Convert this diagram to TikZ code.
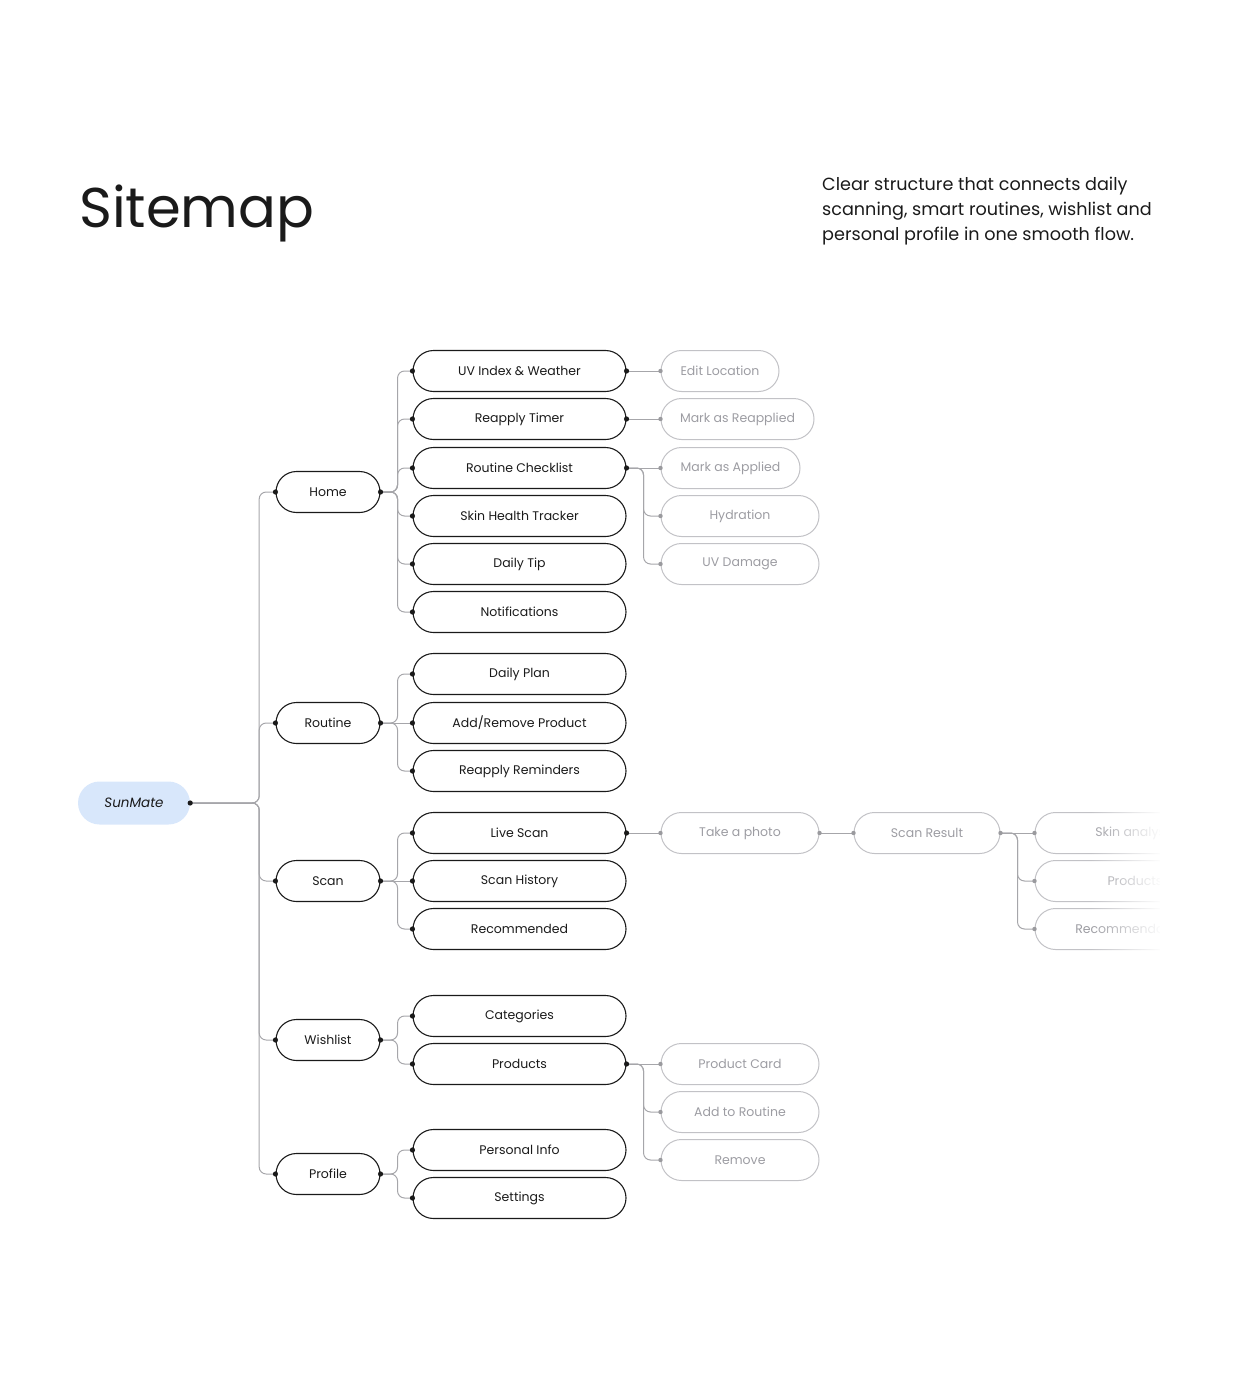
\documentclass[tikz,border=0pt]{standalone}
\usepackage{fontspec}
\setmainfont{Poppins}
\usetikzlibrary{fadings}
\definecolor{ink}{HTML}{1A1A1A}
\definecolor{wire}{HTML}{A6A6AA}
\definecolor{softline}{HTML}{C2C2C6}
\definecolor{softtext}{HTML}{9C9CA2}
\definecolor{softdot}{HTML}{9A9A9E}
\definecolor{sunfill}{HTML}{D8E7FB}
\begin{document}
\begin{tikzpicture}[x=1pt,y=-1pt,
  base/.style={rectangle, rounded corners=20.5pt, minimum height=41pt, inner sep=0pt, font=\fontsize{12.5}{15}\selectfont},
  lvone/.style={base, draw=ink, line width=1.1pt, minimum width=104pt, text=ink},
  lvtwo/.style={base, draw=ink, line width=1.1pt, minimum width=213pt, text=ink},
  soft/.style={base, draw=softline, line width=1pt, text=softtext},
  sunm/.style={base, fill=sunfill, minimum width=112pt, minimum height=43pt, rounded corners=21.5pt, text=ink, font=\fontsize{13.5}{16}\selectfont\itshape},
  conn/.style={draw=wire, line width=1pt, rounded corners=7pt},
  bdot/.style={fill=ink},
  gdot/.style={fill=softdot}]
\useasboundingbox (0,0) rectangle (1240,1391);

% titles
\node[anchor=base west, inner sep=0pt, font=\fontsize{56}{64}\selectfont, text=ink] (title) at (79,227) {Sitemap};
\node[anchor=north west, inner sep=0pt, align=left, font=\fontsize{17.6}{25}\selectfont, text=ink] (desc) at (822,177)
  {Clear structure that connects daily\\scanning, smart routines, wishlist and\\personal profile in one smooth flow.};

% root
\node[sunm] (sun) at (134,803) {SunMate};

% level 1
\node[lvone] (home) at (328,492) {Home};
\node[lvone] (routine) at (328,723) {Routine};
\node[lvone] (scan) at (328,881) {Scan};
\node[lvone] (wish) at (328,1040) {Wishlist};
\node[lvone] (prof) at (328,1174) {Profile};

% level 2
\node[lvtwo] (uvw) at (519.5,371) {UV Index \& Weather};
\node[lvtwo] (reap) at (519.5,419) {Reapply Timer};
\node[lvtwo] (rout) at (519.5,468) {Routine Checklist};
\node[lvtwo] (skin) at (519.5,516) {Skin Health Tracker};
\node[lvtwo] (tip) at (519.5,564) {Daily Tip};
\node[lvtwo] (notif) at (519.5,612) {Notifications};
\node[lvtwo] (plan) at (519.5,674) {Daily Plan};
\node[lvtwo] (addrem) at (519.5,723) {Add/Remove Product};
\node[lvtwo] (remind) at (519.5,771) {Reapply Reminders};
\node[lvtwo] (live) at (519.5,833) {Live Scan};
\node[lvtwo] (hist) at (519.5,881) {Scan History};
\node[lvtwo] (recom) at (519.5,929) {Recommended};
\node[lvtwo] (cat) at (519.5,1016) {Categories};
\node[lvtwo] (prods) at (519.5,1064) {Products};
\node[lvtwo] (pinfo) at (519.5,1150) {Personal Info};
\node[lvtwo] (sett) at (519.5,1198) {Settings};

% level 3
\node[soft, minimum width=118pt] (edit) at (720,371) {Edit Location};
\node[soft, minimum width=153pt] (markre) at (737.5,419) {Mark as Reapplied};
\node[soft, minimum width=139pt] (markap) at (730.5,468) {Mark as Applied};
\node[soft, minimum width=158pt] (hyd) at (740,516) {Hydration};
\node[soft, minimum width=158pt] (uvd) at (740,564) {UV Damage};
\node[soft, minimum width=158pt] (photo) at (740,833) {Take a photo};
\node[soft, minimum width=146pt] (result) at (927,833) {Scan Result};
\node[soft, minimum width=158pt] (pcard) at (740,1064) {Product Card};
\node[soft, minimum width=158pt] (addr) at (740,1112) {Add to Routine};
\node[soft, minimum width=158pt] (remv) at (740,1160) {Remove};
\node[soft, minimum width=200pt] (skinan) at (1135,833) {Skin analysis};
\node[soft, minimum width=200pt] (rprod) at (1135,881) {Products};
\node[soft, minimum width=200pt] (rrec) at (1135,929) {Recommendations};

% connectors (bent)
\foreach \c in {home,routine,scan,wish,prof} \draw[conn] (sun.east) -- ++(69,0) |- (\c.west);
\foreach \c in {uvw,reap,rout,skin,tip,notif} \draw[conn] (home.east) -- ++(17,0) |- (\c.west);
\foreach \c in {plan,remind} \draw[conn] (routine.east) -- ++(17,0) |- (\c.west);
\foreach \c in {live,recom} \draw[conn] (scan.east) -- ++(17,0) |- (\c.west);
\foreach \c in {cat,prods} \draw[conn] (wish.east) -- ++(17,0) |- (\c.west);
\foreach \c in {pinfo,sett} \draw[conn] (prof.east) -- ++(17,0) |- (\c.west);
\foreach \c in {hyd,uvd} \draw[conn] (rout.east) -- ++(17,0) |- (\c.west);
\foreach \c in {rprod,rrec} \draw[conn] (result.east) -- ++(17,0) |- (\c.west);
\foreach \c in {addr,remv} \draw[conn] (prods.east) -- ++(17,0) |- (\c.west);
% connectors (straight)
\draw[conn] (routine.east) -- (addrem.west);
\draw[conn] (scan.east) -- (hist.west);
\draw[conn] (uvw.east) -- (edit.west);
\draw[conn] (reap.east) -- (markre.west);
\draw[conn] (rout.east) -- (markap.west);
\draw[conn] (live.east) -- (photo.west);
\draw[conn] (photo.east) -- (result.west);
\draw[conn] (result.east) -- (skinan.west);
\draw[conn] (prods.east) -- (pcard.west);

% dots
\fill[bdot] (sun.east) circle (2.6pt);
\foreach \n in {home,routine,scan,wish,prof} {\fill[bdot] (\n.west) circle (2.6pt); \fill[bdot] (\n.east) circle (2.6pt);}
\foreach \n in {uvw,reap,rout,skin,tip,notif,plan,addrem,remind,live,hist,recom,cat,prods,pinfo,sett} \fill[bdot] (\n.west) circle (2.6pt);
\foreach \n in {uvw,reap,rout,live,prods} \fill[bdot] (\n.east) circle (2.6pt);
\foreach \n in {edit,markre,markap,hyd,uvd,photo,result,pcard,addr,remv,skinan,rprod,rrec} \fill[gdot] (\n.west) circle (2.2pt);
\foreach \n in {photo,result} \fill[gdot] (\n.east) circle (2.2pt);

% fade-out of the cut branch
\fill[white, path fading=west] (1090,805) rectangle (1162,960);
\fill[white] (1160,805) rectangle (1240,960);
\end{tikzpicture}
\end{document}
